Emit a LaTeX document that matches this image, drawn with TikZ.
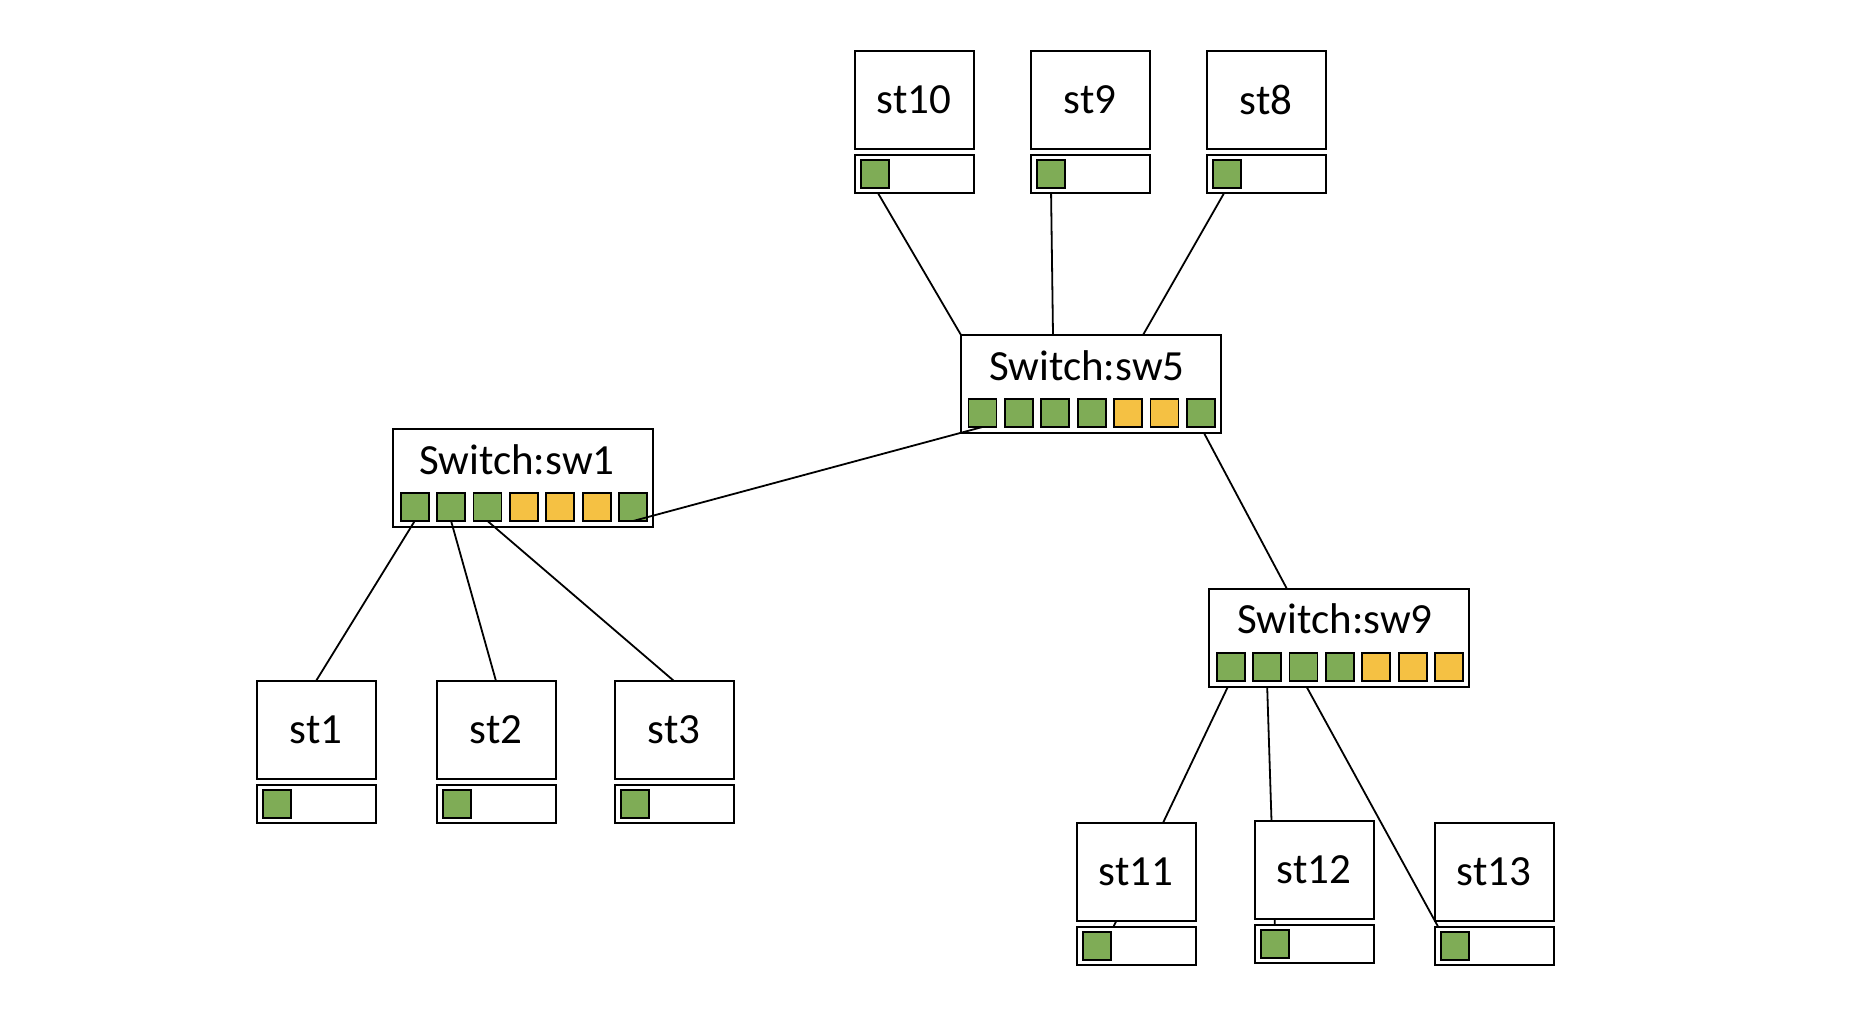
\documentclass[tikz,border=0pt]{standalone}
\usepackage{fontspec}
\setmainfont{Carlito}
\usetikzlibrary{backgrounds}

\definecolor{portgreen}{HTML}{7FAC56}
\definecolor{portyellow}{HTML}{F5C143}

\begin{document}
\begin{tikzpicture}[x=1pt, y=-1pt]
\tikzset{ inner sep=0pt, outer sep=0pt,
  box/.style={draw, line width=2pt, fill=white},
  stbox/.style={box, minimum width=119pt, minimum height=98pt, font=\fontsize{43}{50}\selectfont},
  stbar/.style={box, minimum width=119pt, minimum height=38pt},
  swbox/.style={box, minimum width=260pt, minimum height=98pt},
  port/.style={draw, line width=1.8pt, minimum size=28pt},
  swtext/.style={anchor=base, font=\fontsize{43}{50}\selectfont},
  link/.style={line width=1.8pt},
}

\useasboundingbox (0,0) rectangle (1874,1010);

%\draw [lightgray, dashed](0,0) grid [step=100] (1874,1010);

% stations on top
\node [stbox] (st10)  at (914,100) {st10};
\node [stbar] (st10b) at (914,174) {};
\node [port, fill=portgreen] (st10p) at (875,174) {};

\node [stbox] (st9)  at (1090,100) {st9};
\node [stbar] (st9b) at (1090,174) {};
\node [port, fill=portgreen] (st9p) at (1051,174) {};

\node [stbox] (st8)  at (1266,100) {st8};
\node [stbar] (st8b) at (1266,174) {};
\node [port, fill=portgreen] (st8p) at (1227,174) {};

% stations left
\node [stbox] (st1)  at (316,730) {st1};
\node [stbar] (st1b) at (316,804) {};
\node [port, fill=portgreen] (st1p) at (277,804) {};

\node [stbox] (st2)  at (496,730) {st2};
\node [stbar] (st2b) at (496,804) {};
\node [port, fill=portgreen] (st2p) at (457,804) {};

\node [stbox] (st3)  at (674,730) {st3};
\node [stbar] (st3b) at (674,804) {};
\node [port, fill=portgreen] (st3p) at (635,804) {};

% stations right
\node [stbox] (st11)  at (1136,872) {st11};
\node [stbar] (st11b) at (1136,946) {};
\node [port, fill=portgreen] (st11p) at (1097,946) {};

\node [stbox] (st12)  at (1314,870) {st12};
\node [stbar] (st12b) at (1314,944) {};
\node [port, fill=portgreen] (st12p) at (1275,944) {};

\node [stbox] (st13)  at (1494,872) {st13};
\node [stbar] (st13b) at (1494,946) {};
\node [port, fill=portgreen] (st13p) at (1455,946) {};

% switches
\node [swbox] (sw1) at (523,478) {};
\node [swtext] (sw1t) at (517,474) {Switch:sw1};
\foreach \col [count=\i] in {green,green,green,yellow,yellow,yellow,green}
  \node [port, fill=port\col] (sw1p\i) at (378.3+36.4*\i,507) {};

\node [swbox] (sw5) at (1091,384) {};
\node [swtext] (sw5t) at (1087,380) {Switch:sw5};
\foreach \col [count=\i] in {green,green,green,green,yellow,yellow,green}
  \node [port, fill=port\col] (sw5p\i) at (946+36.4*\i,413) {};

\node [swbox] (sw9) at (1339,638) {};
\node [swtext] (sw9t) at (1335,633) {Switch:sw9};
\foreach \col [count=\i] in {green,green,green,green,yellow,yellow,yellow}
  \node [port, fill=port\col] (sw9p\i) at (1194.2+36.4*\i,667) {};

% links
\draw [link] (sw1p1.south) -- (st1.north);
\draw [link] (sw1p2.south) -- (st2.north);
\draw [link] (sw1p3.south) -- (st3.north);
\draw [link] (sw1p7.south) -- (sw5p1.south);

\begin{pgfonlayer}{background}
\draw [link] (st10p.south) -- (sw5.north west);
\draw [link] (st9p.south)  -- ([xshift=-38pt]sw5.north);
\draw [link] (st8p.south)  -- ([xshift=52pt]sw5.north);
\draw [link] (sw5p7.south) -- ([xshift=-52pt]sw9.north);
\draw [link] (sw9p1.south) -- (st11p.north east);
\draw [link] (sw9p2.south) -- (st12p.north);
\draw [link] (sw9p3.south) -- (st13p.north west);
\end{pgfonlayer}
\end{tikzpicture}
\end{document}
